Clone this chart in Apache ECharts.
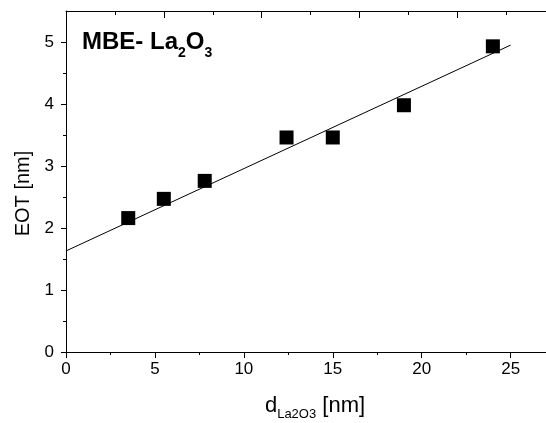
<!DOCTYPE html>
<html>
<head>
<meta charset="utf-8">
<script src="https://cdn.jsdelivr.net/npm/echarts@6/dist/echarts.min.js"></script>
<style>
html,body{margin:0;padding:0;background:#fff;}
#chart{width:546px;height:423px;}
</style>
</head>
<body>
<div id="chart"></div>
<script>
// Data
const thickness = [3.5, 5.5, 7.8, 12.4, 15.0, 19.0, 24.0];   // d_La2O3 [nm]
const eot       = [2.16, 2.47, 2.76, 3.46, 3.46, 3.98, 4.93]; // EOT [nm]
const fitX = [0, 25];
const fitY = [1.63, 4.95];

// Tick labels / positions
const xMajorTicks = [0, 5, 10, 15, 20, 25];
const xMinorTicks = [2.5, 7.5, 12.5, 17.5, 22.5];
const topMajorTicks = [5, 10, 15, 20];
const topMinorTicks = [2.5, 7.5, 12.5, 17.5, 22.5];
const yMajorTicks = [0, 1, 2, 3, 4, 5];
const yMinorTicks = [0.5, 1.5, 2.5, 3.5, 4.5];

const FONT = 'Liberation Sans, Arial, sans-serif';

const chart = echarts.init(document.getElementById('chart'), null, {renderer: 'canvas'});

const lineStyle = {color: '#000', width: 1};

function hiddenAxis(pos, min, max, ticks, len, inside) {
  return {
    type: 'value', position: pos, min: min, max: max,
    axisLine: {show: false, onZero: false},
    axisTick: {show: true, inside: inside, length: len, lineStyle: lineStyle, customValues: ticks},
    axisLabel: {show: false},
    splitLine: {show: false}
  };
}

const option = {
  backgroundColor: '#fff',
  animation: false,
  title: {
    left: 82, top: 30, padding: 0,
    text: '{m|MBE- La}{s|2}{m|O}{s|3}',
    textStyle: {
      rich: {
        m: {fontSize: 24, fontWeight: 'bold', fontFamily: FONT, color: '#000', lineHeight: 26, verticalAlign: 'top'},
        s: {fontSize: 14, fontWeight: 'bold', fontFamily: FONT, color: '#000', lineHeight: 14, padding: [16, 0, 0, 0], verticalAlign: 'top'}
      }
    }
  },
  grid: {left: 66, width: 498, top: 11, height: 341, containLabel: false, outerBoundsMode: 'none'},
  xAxis: [
    {
      type: 'value', position: 'bottom', min: 0, max: 28,
      axisLine: {show: true, onZero: false, lineStyle: lineStyle},
      axisTick: {show: true, inside: false, length: 6, lineStyle: lineStyle, customValues: xMajorTicks},
      axisLabel: {show: true, fontSize: 17, fontFamily: FONT, color: '#000', margin: 9, customValues: xMajorTicks},
      splitLine: {show: false},
      name: '{m|d}{s|La2O3}{m| [nm]}',
      nameLocation: 'middle', nameGap: 43,
      nameTextStyle: {
        rich: {
          m: {fontSize: 22, fontFamily: FONT, color: '#000', lineHeight: 24, verticalAlign: 'top'},
          s: {fontSize: 13, fontFamily: FONT, color: '#000', lineHeight: 13, padding: [13, 0, 0, 0], verticalAlign: 'top'}
        }
      }
    },
    hiddenAxis('bottom', 0, 28, xMinorTicks, 3, false),
    {
      type: 'value', position: 'top', min: 0, max: 25.45,
      axisLine: {show: true, onZero: false, lineStyle: lineStyle},
      axisTick: {show: true, inside: true, length: 7, lineStyle: lineStyle, customValues: topMajorTicks},
      axisLabel: {show: false},
      splitLine: {show: false}
    },
    hiddenAxis('top', 0, 25.45, topMinorTicks, 4, true)
  ],
  yAxis: [
    {
      type: 'value', position: 'left', min: 0, max: 5.5,
      axisLine: {show: true, onZero: false, lineStyle: lineStyle},
      axisTick: {show: true, inside: false, length: 5, lineStyle: lineStyle, customValues: yMajorTicks},
      axisLabel: {show: true, fontSize: 17, fontFamily: FONT, color: '#000', margin: 12, customValues: yMajorTicks},
      splitLine: {show: false},
      name: 'EOT [nm]', nameLocation: 'middle', nameGap: 30,
      nameTextStyle: {fontSize: 20, fontFamily: FONT, color: '#000', padding: [0, 24, 0, 0]}
    },
    hiddenAxis('left', 0, 5.5, yMinorTicks, 3, false)
  ],
  series: [
    {
      type: 'line', xAxisIndex: 0, yAxisIndex: 0,
      data: fitX.map((x, i) => [x, fitY[i]]),
      showSymbol: false, symbol: 'none',
      lineStyle: {color: '#000', width: 1},
      silent: true, z: 2
    },
    {
      type: 'scatter', xAxisIndex: 0, yAxisIndex: 0,
      data: thickness.map((x, i) => [x, eot[i]]),
      symbol: 'rect', symbolSize: 14,
      itemStyle: {color: '#000', opacity: 1},
      z: 3
    }
  ]
};

chart.setOption(option);
</script>
</body>
</html>
